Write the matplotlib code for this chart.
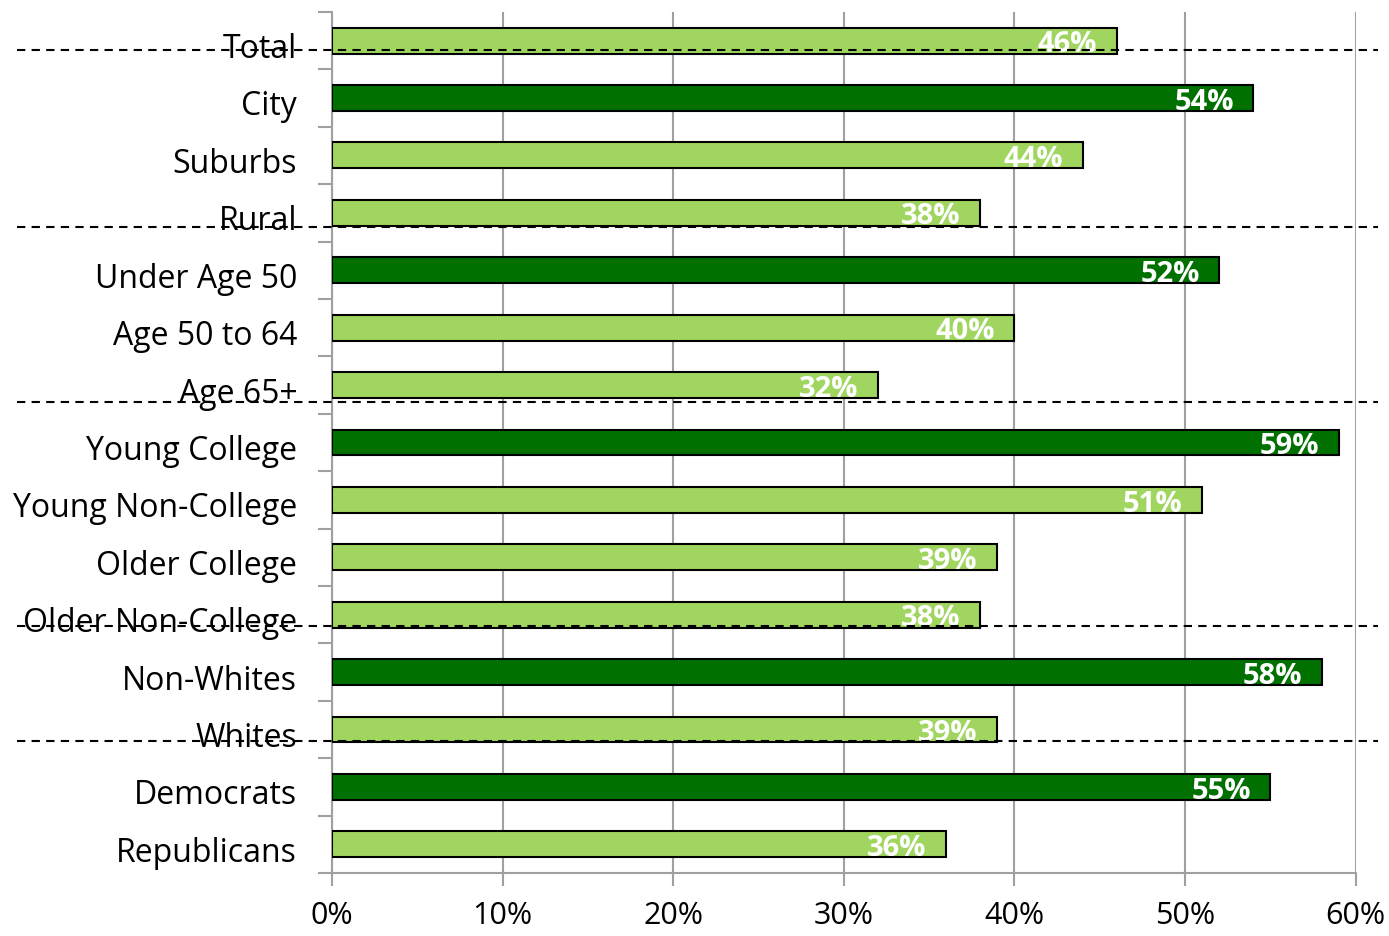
import matplotlib
matplotlib.use("Agg")
import matplotlib.pyplot as plt
import matplotlib.transforms as mtransforms
import numpy as np

categories = ["Total", "City", "Suburbs", "Rural", "Under Age 50", "Age 50 to 64",
              "Age 65+", "Young College", "Young Non-College", "Older College",
              "Older Non-College", "Non-Whites", "Whites", "Democrats", "Republicans"]
values = [46, 54, 44, 38, 52, 40, 32, 59, 51, 39, 38, 58, 39, 55, 36]
dark = ["City", "Under Age 50", "Young College", "Non-Whites", "Democrats"]
# group separators (data y, just under the last bar of each group)
separators = [0.17, 3.25, 6.3, 10.2, 12.2]

light_green = "#A0D660"
dark_green = "#007000"
grid_gray = "#A0A0A0"

plt.rcParams['font.family'] = ['Open Sans', 'DejaVu Sans']

fig = plt.figure(figsize=(13.89, 9.36), dpi=100)
ax = fig.add_axes([0.239, 0.0673, 0.737, 0.92])

y = np.arange(len(categories))
colors = [dark_green if c in dark else light_green for c in categories]
ax.barh(y, values, height=0.45, color=colors, edgecolor="black", linewidth=1.5, zorder=3)

for yi, v in zip(y, values):
    ax.annotate(f"{v}%", (v, yi), xytext=(-14, -3), textcoords="offset points",
                ha="right", va="center", color="white", fontsize=21,
                fontweight="bold", zorder=4)

ax.set_xlim(0, 60)
ax.set_ylim(len(categories) - 0.5, -0.5)
ax.set_xticks(range(0, 61, 10))
ax.set_xticklabels([f"{t}%" for t in range(0, 61, 10)])
ax.set_yticks(y)
ax.set_yticklabels(categories)
ax.set_yticks(np.arange(-0.5, len(categories)), minor=True)

ax.tick_params(axis="y", which="major", length=0, pad=25, labelsize=23)
ax.tick_params(axis="y", which="minor", length=10, width=1.5, color=grid_gray)
ax.tick_params(axis="x", length=9, width=1.5, color=grid_gray, pad=11, labelsize=22)

# nudge category labels down a little, as in the original
shift = mtransforms.ScaledTranslation(0, -0.05, fig.dpi_scale_trans)
for lbl in ax.get_yticklabels():
    lbl.set_transform(lbl.get_transform() + shift)

ax.grid(axis="x", color=grid_gray, linewidth=1.5, zorder=0)
for s in ["top", "right"]:
    ax.spines[s].set_visible(False)
for s in ["left", "bottom"]:
    ax.spines[s].set_color(grid_gray)
    ax.spines[s].set_linewidth(1.5)

trans = mtransforms.blended_transform_factory(fig.transFigure, ax.transData)
for sy in separators:
    ax.plot([0.012, 0.992], [sy, sy], transform=trans, color="black",
            linestyle=(0, (4, 3)), linewidth=1.5, clip_on=False, zorder=5)

fig.savefig("out.png", dpi=100)
